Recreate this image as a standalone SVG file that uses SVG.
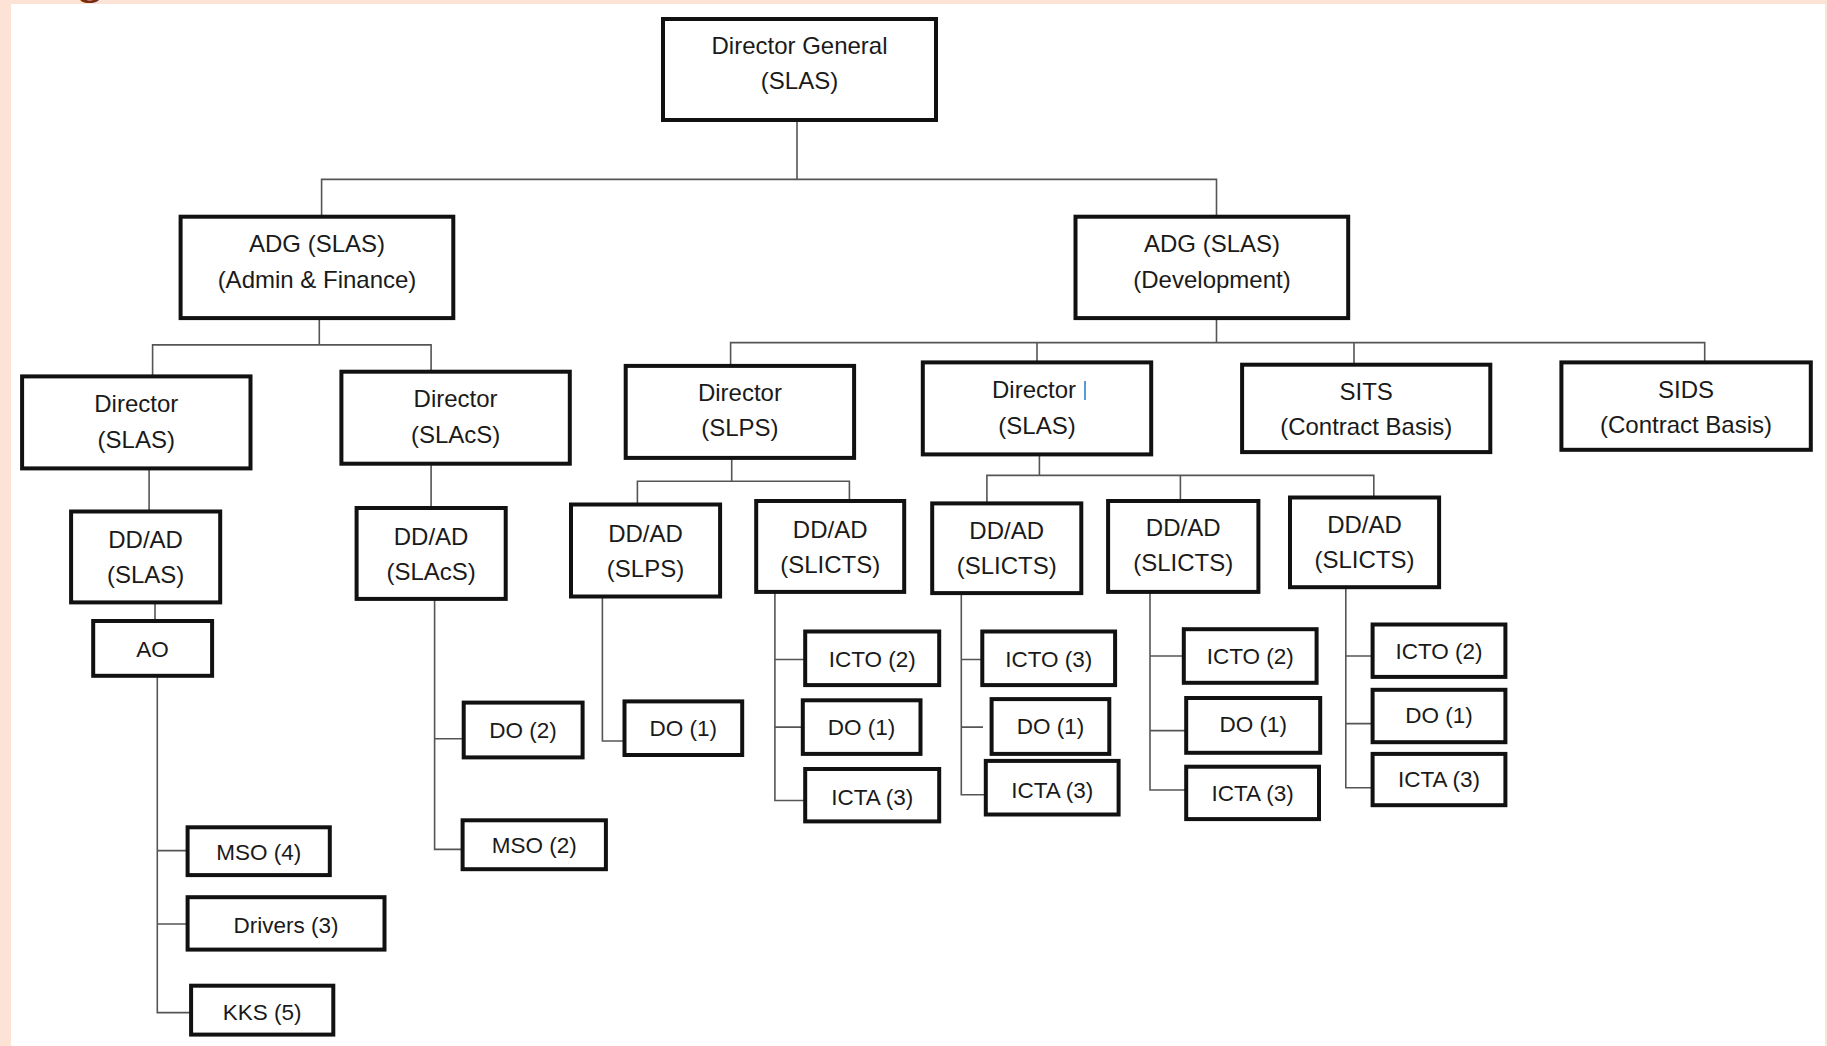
<svg xmlns="http://www.w3.org/2000/svg" width="1827" height="1046" viewBox="0 0 1827 1046">
<style>
.bx{fill:#fff;stroke:#111;stroke-width:4}
.t{font-family:"Liberation Sans",Arial,sans-serif;font-size:24px;fill:#1a1a1a;text-anchor:middle;dominant-baseline:central}
.s{font-size:22.5px}
.c{fill:none;stroke:#555;stroke-width:1.6}
</style>
<rect x="0" y="0" width="1827" height="1046" fill="#fde3d6"/>
<text x="90" y="-7" font-family="Liberation Serif,serif" font-weight="bold" font-size="46" fill="#7b2c0e" text-anchor="middle">g</text>
<rect x="11" y="4" width="1814" height="1042" fill="#fff"/>

<g id="connectors" class="c">
<path d="M797 120V179.4M321.6 216.7V179.4H1216.5V216.7"/>
<path d="M319.3 318V344.9M152.6 376.4V344.9H431.1V371.7"/>
<path d="M149.1 468.4V511.5M155 602.4V621"/>
<path d="M157.3 675.8V1012.6H191.1M157.3 850.6H187.6M157.3 924H187.6"/>
<path d="M431.1 463.7V508M434.6 598.9V849.4H462.6M434.6 738.7H463.7"/>
<path d="M1216.5 318V342.6M730.6 365.9V342.6H1704.7V362.4M1037 342.6V362.4M1354 342.6V364.7"/>
<path d="M731.7 457.9V481.2M637.4 504.5V481.2H849.4V501"/>
<path d="M602.4 596.5V741H624.5"/>
<path d="M774.9 591.9V800.5H805.2M774.9 659.5H805.2M774.9 727.1H802.8"/>
<path d="M1039.4 454.4V475.4M986.9 503.4V475.4H1373.8V497.5M1180.4 475.4V501"/>
<path d="M961.3 593.1V794.7H985.8M961.3 659.5H982.3M961.3 727.1H983"/>
<path d="M1150 591.9V790H1186.2M1150 656H1183.8M1150 730.6H1186.2"/>
<path d="M1345.8 587.2V787.7H1372.6M1345.8 656H1372.6M1345.8 723.6H1372.6"/>
</g>

<g id="dg"><rect class="bx" x="663" y="19" width="273" height="101"/><text class="t" x="799.5" y="45.4">Director General</text><text class="t" x="799.5" y="80.4">(SLAS)</text></g>
<g id="adg-af"><rect class="bx" x="180.6" y="216.7" width="272.7" height="101.4"/><text class="t" x="317" y="243.5">ADG (SLAS)</text><text class="t" x="317" y="279.6">(Admin &amp; Finance)</text></g>
<g id="adg-dev"><rect class="bx" x="1075.5" y="216.7" width="272.7" height="101.4"/><text class="t" x="1212" y="243.5">ADG (SLAS)</text><text class="t" x="1212" y="279.6">(Development)</text></g>

<g id="dir-slas-l"><rect class="bx" x="22.1" y="376.4" width="228.4" height="92"/><text class="t" x="136.3" y="403.2">Director</text><text class="t" x="136.3" y="439.3">(SLAS)</text></g>
<g id="dir-slacs"><rect class="bx" x="341.4" y="371.7" width="228.4" height="92"/><text class="t" x="455.6" y="398.5">Director</text><text class="t" x="455.6" y="434.6">(SLAcS)</text></g>
<g id="dir-slps"><rect class="bx" x="625.7" y="365.9" width="228.4" height="92"/><text class="t" x="739.9" y="392.7">Director</text><text class="t" x="739.9" y="427.6">(SLPS)</text></g>
<g id="dir-slas-m"><rect class="bx" x="922.8" y="362.4" width="228.4" height="92"/><text class="t" x="1034" y="389.2">Director</text><text class="t" x="1037" y="425.3">(SLAS)</text><line x1="1085" y1="381" x2="1085" y2="400" stroke="#5b9bd5" stroke-width="2"/></g>
<g id="sits"><rect class="bx" x="1242.1" y="364.7" width="248.2" height="87.4"/><text class="t" x="1366.2" y="391.5">SITS</text><text class="t" x="1366.2" y="426.5">(Contract Basis)</text></g>
<g id="sids"><rect class="bx" x="1561.4" y="362.4" width="249.4" height="87.4"/><text class="t" x="1686" y="389.2">SIDS</text><text class="t" x="1686" y="424.1">(Contract Basis)</text></g>

<g id="dd-slas"><rect class="bx" x="71.1" y="511.5" width="149.1" height="90.9"/><text class="t" x="145.6" y="539.5">DD/AD</text><text class="t" x="145.6" y="574.4">(SLAS)</text></g>
<g id="dd-slacs"><rect class="bx" x="356.6" y="508" width="149.1" height="90.9"/><text class="t" x="431.1" y="536">DD/AD</text><text class="t" x="431.1" y="571">(SLAcS)</text></g>
<g id="dd-slps"><rect class="bx" x="571" y="504.5" width="149.1" height="92"/><text class="t" x="645.5" y="533.7">DD/AD</text><text class="t" x="645.5" y="568.6">(SLPS)</text></g>
<g id="dd-slicts1"><rect class="bx" x="756.2" y="501" width="148" height="90.9"/><text class="t" x="830.2" y="529">DD/AD</text><text class="t" x="830.2" y="564">(SLICTS)</text></g>
<g id="dd-slicts2"><rect class="bx" x="932.2" y="503.4" width="149.1" height="89.7"/><text class="t" x="1006.7" y="530.2">DD/AD</text><text class="t" x="1006.7" y="565.1">(SLICTS)</text></g>
<g id="dd-slicts3"><rect class="bx" x="1108.1" y="501" width="150.3" height="90.9"/><text class="t" x="1183.2" y="527.8">DD/AD</text><text class="t" x="1183.2" y="562.8">(SLICTS)</text></g>
<g id="dd-slicts4"><rect class="bx" x="1290" y="497.5" width="149.1" height="89.7"/><text class="t" x="1364.5" y="524.3">DD/AD</text><text class="t" x="1364.5" y="559.3">(SLICTS)</text></g>

<g id="ao"><rect class="bx" x="93.2" y="621" width="118.9" height="54.8"/><text class="t s" x="152.6" y="649">AO</text></g>
<g id="mso4"><rect class="bx" x="187.6" y="827.3" width="142.2" height="47.8"/><text class="t s" x="258.7" y="852.5">MSO (4)</text></g>
<g id="drivers3"><rect class="bx" x="187.6" y="897.2" width="196.9" height="52.4"/><text class="t s" x="286" y="925.2">Drivers (3)</text></g>
<g id="kks5"><rect class="bx" x="191.1" y="985.7" width="142.2" height="48.9"/><text class="t s" x="262.2" y="1012.6">KKS (5)</text></g>
<g id="do2"><rect class="bx" x="463.7" y="702.6" width="118.9" height="54.8"/><text class="t s" x="523.1" y="730.6">DO (2)</text></g>
<g id="mso2"><rect class="bx" x="462.6" y="820.3" width="143.3" height="48.9"/><text class="t s" x="534.2" y="845.9">MSO (2)</text></g>
<g id="do1-slps"><rect class="bx" x="624.5" y="701.4" width="117.7" height="53.6"/><text class="t s" x="683.3" y="728.3">DO (1)</text></g>

<g id="icto2-c1"><rect class="bx" x="805.2" y="631.5" width="134" height="53.6"/><text class="t s" x="872.2" y="659.5">ICTO (2)</text></g>
<g id="do1-c1"><rect class="bx" x="802.8" y="700.3" width="117.7" height="53.6"/><text class="t s" x="861.6" y="727.1">DO (1)</text></g>
<g id="icta3-c1"><rect class="bx" x="805.2" y="769" width="134" height="52.4"/><text class="t s" x="872.2" y="797">ICTA (3)</text></g>

<g id="icto3-c2"><rect class="bx" x="982.3" y="631.5" width="132.8" height="53.6"/><text class="t s" x="1048.7" y="659.5">ICTO (3)</text></g>
<g id="do1-c2"><rect class="bx" x="991.6" y="699.1" width="117.7" height="54.8"/><text class="t s" x="1050.4" y="726">DO (1)</text></g>
<g id="icta3-c2"><rect class="bx" x="985.8" y="760.9" width="132.8" height="53.6"/><text class="t s" x="1052.2" y="790">ICTA (3)</text></g>

<g id="icto2-c3"><rect class="bx" x="1183.8" y="629.2" width="132.8" height="53.6"/><text class="t s" x="1250.2" y="656">ICTO (2)</text></g>
<g id="do1-c3"><rect class="bx" x="1186.2" y="698" width="134" height="54.8"/><text class="t s" x="1253.2" y="724.8">DO (1)</text></g>
<g id="icta3-c3"><rect class="bx" x="1186.2" y="766.7" width="132.8" height="52.4"/><text class="t s" x="1252.6" y="793.5">ICTA (3)</text></g>

<g id="icto2-c4"><rect class="bx" x="1372.6" y="624.5" width="132.8" height="52.4"/><text class="t s" x="1439" y="651.3">ICTO (2)</text></g>
<g id="do1-c4"><rect class="bx" x="1372.6" y="689.8" width="132.8" height="52.4"/><text class="t s" x="1439" y="715.4">DO (1)</text></g>
<g id="icta3-c4"><rect class="bx" x="1372.6" y="753.9" width="132.8" height="51.3"/><text class="t s" x="1439" y="779.5">ICTA (3)</text></g>
</svg>
